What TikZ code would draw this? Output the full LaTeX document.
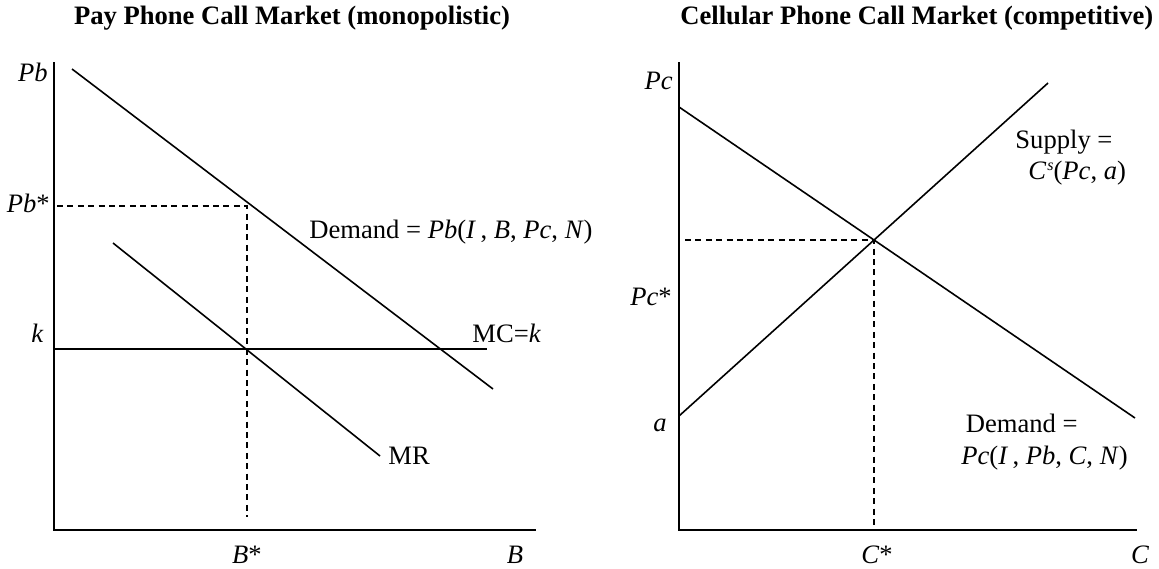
\documentclass[tikz,border=0pt]{standalone}
\usepackage{fontspec}
\setmainfont{Liberation Serif}
\usetikzlibrary{positioning}

\begin{document}
\begin{tikzpicture}[x=0.5pt, y=-0.5pt,
  axis/.style={line width=1pt},
  curve/.style={line width=0.8pt},
  guide/.style={line width=0.8pt, dash pattern=on 3pt off 2.2pt},
  heading/.style={font=\bfseries\fontsize{13.3}{15}\selectfont, inner sep=0pt},
  lbl/.style={font=\fontsize{13.3}{15}\selectfont, inner sep=0pt}]
  \useasboundingbox (0,0) rectangle (1159,568);

  % pay phone market
  \node [heading] (titleB) at (292,18) {Pay Phone Call Market (monopolistic)};
  \coordinate (topB) at (54,62);
  \coordinate (originB) at (54,530);
  \coordinate (endB) at (536,530);
  \coordinate (demB1) at (72,69);
  \coordinate (demB2) at (493,389);
  \coordinate (mr1) at (113,243);
  \coordinate (mr2) at (380,456);
  \coordinate (mc1) at (54,349);
  \coordinate (mc2) at (487,349);
  \coordinate (pbstar) at (57,206);
  \coordinate (optB) at (247,206);
  \coordinate (bstar) at (247,517);

  \draw [axis] (topB) -- (originB) -- (endB);
  \draw [curve] (demB1) -- (demB2);
  \draw [curve] (mr1) -- (mr2);
  \draw [curve] (mc1) -- (mc2);
  \draw [guide] (pbstar) -- (optB) -- (bstar);

  \node [lbl, anchor=east] (pbLbl) at (48,72) {\textit{Pb}};
  \node [lbl, anchor=east] (pbsLbl) at (50,203) {\textit{Pb}*};
  \node [lbl, anchor=east] (kLbl) at (44,333) {\textit{k}};
  \node [lbl, anchor=west] (mcLbl) at (472,333) {MC=\textit{k}};
  \node [lbl, anchor=west] (mrLbl) at (388,456) {MR};
  \node [lbl, anchor=west] (demBLbl) at (309,232) {Demand = \textit{Pb}(\textit{I}\,, \textit{B}, \textit{Pc}, \textit{N})};
  \node [lbl] (bsLbl) at (247,555) {\textit{B}*};
  \node [lbl] (bLbl) at (515,555) {\textit{B}};

  % cellular phone market
  \node [heading, anchor=west] (titleC) at (680,18) {Cellular Phone Call Market (competitive)};
  \coordinate (topC) at (679,62);
  \coordinate (originC) at (679,530);
  \coordinate (endC) at (1137,530);
  \coordinate (demC1) at (679,107);
  \coordinate (demC2) at (1135,418);
  \coordinate (sup1) at (679,416);
  \coordinate (sup2) at (1048,83);
  \coordinate (pcstar) at (685,240);
  \coordinate (optC) at (874,240);
  \coordinate (cstar) at (874,530);

  \draw [axis] (topC) -- (originC) -- (endC);
  \draw [curve] (demC1) -- (demC2);
  \draw [curve] (sup1) -- (sup2);
  \draw [guide] (pcstar) -- (optC) -- (cstar);

  \node [lbl, anchor=east] (pcLbl) at (673,81) {\textit{Pc}};
  \node [lbl, anchor=east] (pcsLbl) at (672,297) {\textit{Pc}*};
  \node [lbl, anchor=east] (aLbl) at (667,425) {\textit{a}};
  \node [lbl, anchor=west] (supLbl) at (1015,142) {Supply =};
  \node [lbl, anchor=west] (supFn) at (1028,173) {\textit{C}\kern0.5pt\raisebox{4.5pt}{\fontsize{8}{9}\selectfont\textit{s}}(\textit{Pc}, \textit{a})};
  \node [lbl, anchor=east] (demCLbl) at (1078,423) {Demand =};
  \node [lbl, anchor=east] (demCFn) at (1128,458) {\textit{Pc}(\textit{I}\,, \textit{Pb}, \textit{C}, \textit{N})};
  \node [lbl] (csLbl) at (877,555) {\textit{C}*};
  \node [lbl] (cLbl) at (1140,555) {\textit{C}};
\end{tikzpicture}
\end{document}
